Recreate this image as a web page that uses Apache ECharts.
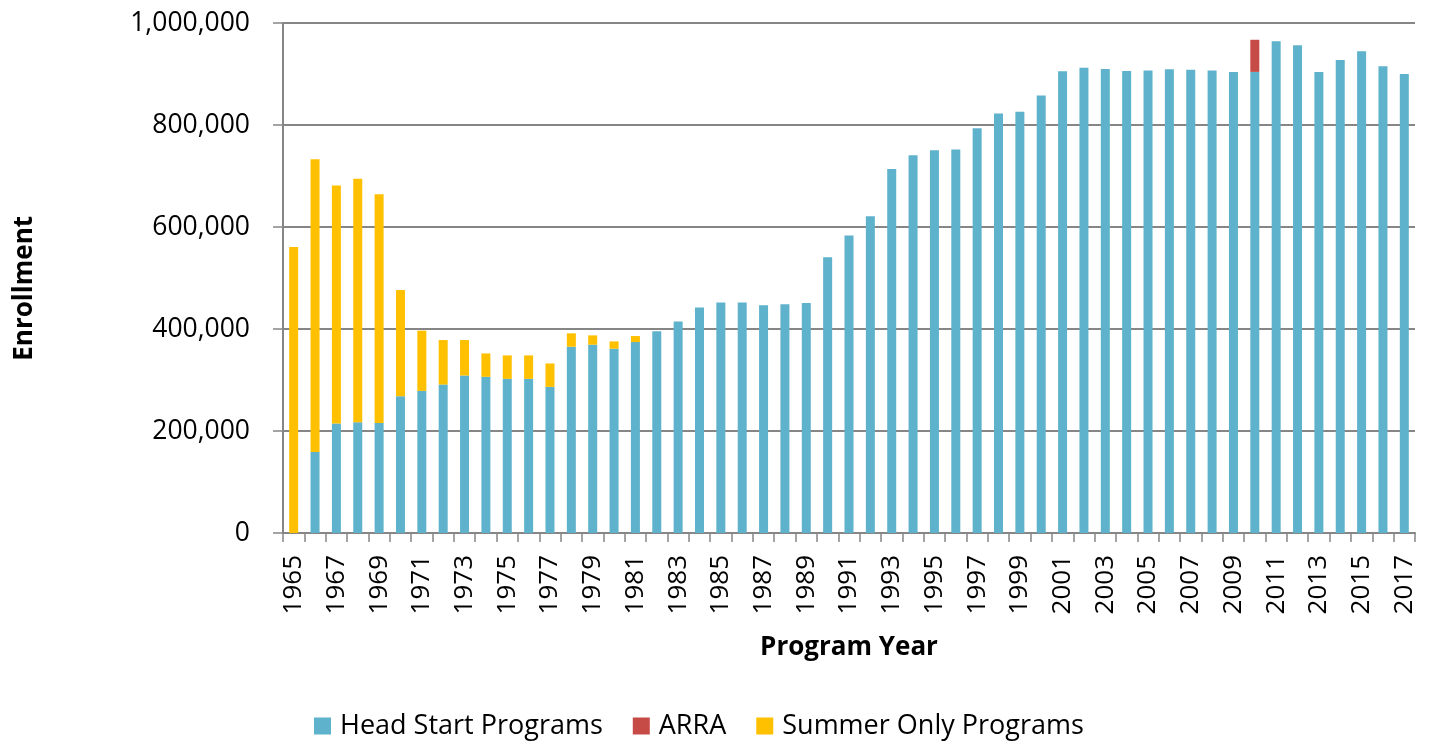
<!DOCTYPE html>
<html>
<head>
<meta charset="utf-8">
<title>Head Start Enrollment</title>
<script src="https://cdn.jsdelivr.net/npm/echarts@6/dist/echarts.min.js"></script>
<style>
    html, body { margin: 0; padding: 0; background: #fff; }
    #chart { width: 1429px; height: 751px; }
</style>
</head>
<body>
<div id="chart"></div>
<script>
// --- データ ---

const years = [];
for (let y = 1965; y <= 2017; y++) years.push(String(y));

const headStart = [
    null, 159000, 214500, 217000, 215700, 268200, 278700, 291100, 308800, 306200,
    302300, 302300, 286500, 365200, 369200, 361300, 374400, 395800, 414950, 442140,
    452080, 451730, 446520, 448460, 450970, 540930, 583470, 621080, 713900, 740490,
    750700, 752080, 793810, 822320, 826020, 857660, 905240, 912350, 909610, 905850,
    906990, 909200, 908410, 906990, 904150, 904120, 964430, 956500, 903680, 927280,
    944580, 915100, 899850
];

// ARRA は 2010 年のみ
const arra = years.map(y => y === '2010' ? 63000 : null);

// 1965〜1981 のみ（以降はなし）
const summerOnly = [
    561000, 574000, 466800, 477400, 448500, 208500, 118000, 87200, 69500, 45900,
    45900, 45900, 45900, 26300, 18300, 14400, 11800
];

const yTicks = [0, 200000, 400000, 600000, 800000, 1000000];

const seriesNames = ['Head Start Programs', 'ARRA', 'Summer Only Programs'];
const seriesColors = ['#5FB2CB', '#C64B47', '#FFC000'];

// --- 描画 ---

const FONT = '"Open Sans", "Liberation Sans", sans-serif';

function formatThousands(v) {
    return v.toLocaleString('en-US');
}

function buildSeries() {
    const summerFull = years.map((y, i) => i < summerOnly.length ? summerOnly[i] : null);
    const values = [headStart, arra, summerFull];
    return seriesNames.map((name, i) => ({
        name: name,
        type: 'bar',
        stack: 'total',
        barWidth: 9,
        data: values[i],
        itemStyle: { color: seriesColors[i] },
        emphasis: { disabled: true }
    }));
}

const chart = echarts.init(document.getElementById('chart'), null, { renderer: 'canvas' });

const option = {
    animation: false,
    textStyle: { fontFamily: FONT },
    grid: { left: 283, right: 14, top: 23, bottom: 218, containLabel: false },
    legend: {
        data: seriesNames,
        left: 309,
        top: 707,
        icon: 'rect',
        itemWidth: 17,
        itemHeight: 17,
        itemGap: 30,
        textStyle: { fontFamily: FONT, fontSize: 27, color: '#000', padding: [0, 0, 0, 4], lineHeight: 28 }
    },
    xAxis: {
        type: 'category',
        data: years,
        axisLine: { lineStyle: { color: '#868686', width: 2 } },
        axisTick: { show: true, length: 9, interval: 0, lineStyle: { color: '#868686', width: 1.5 } },
        axisLabel: {
            interval: 1,
            rotate: 90,
            margin: 22,
            fontFamily: FONT,
            fontSize: 26,
            color: '#000'
        }
    },
    yAxis: {
        type: 'value',
        min: yTicks[0],
        max: yTicks[yTicks.length - 1],
        interval: yTicks[1] - yTicks[0],
        axisLine: { show: true, lineStyle: { color: '#868686', width: 2 } },
        axisTick: { show: true, length: 10, lineStyle: { color: '#868686', width: 1.5 } },
        splitLine: { show: true, lineStyle: { color: '#868686', width: 2 } },
        axisLabel: {
            margin: 33,
            fontFamily: FONT,
            fontSize: 26.5,
            color: '#000',
            formatter: formatThousands
        }
    },
    graphic: [
        {
            type: 'text',
            left: 12,
            top: 216,
            rotation: Math.PI / 2,
            style: { text: 'Enrollment', font: 'bold 26px ' + FONT, fill: '#000' }
        },
        {
            // プロット領域の中央 (x≈849) に合わせる
            type: 'text',
            x: 849,
            y: 648,
            style: {
                text: 'Program Year',
                font: 'bold 26px ' + FONT,
                fill: '#000',
                align: 'center',
                verticalAlign: 'middle'
            }
        }
    ],
    series: buildSeries()
};

chart.setOption(option);
</script>
</body>
</html>
